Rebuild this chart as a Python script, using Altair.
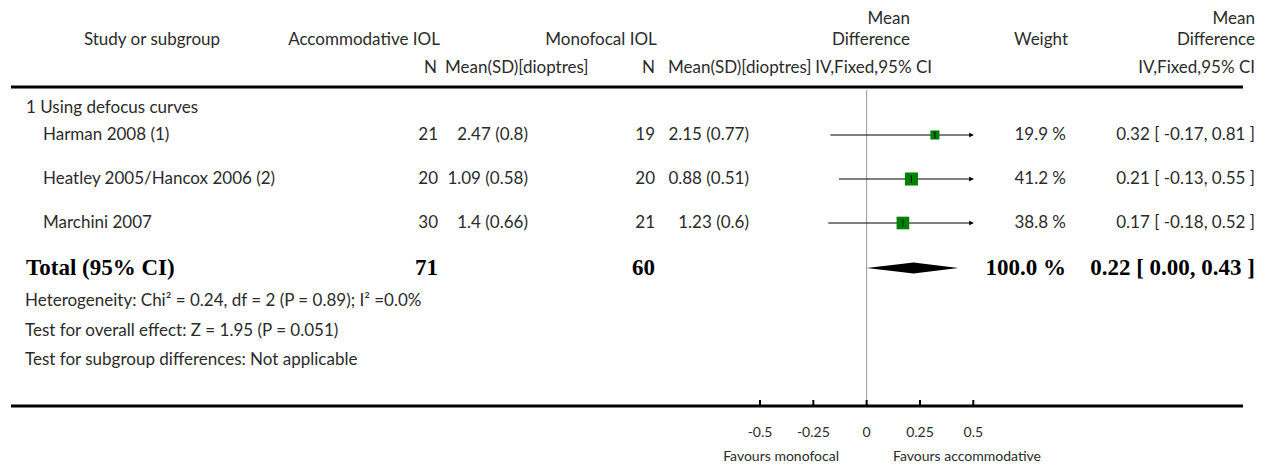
import altair as alt
import pandas as pd

# ---------------- data ----------------
studies = ["Harman 2008 (1)", "Heatley 2005/Hancox 2006 (2)", "Marchini 2007"]
acc_n = [21, 20, 30]
acc_mean = [2.47, 1.09, 1.4]
acc_sd = [0.8, 0.58, 0.66]
mono_n = [19, 20, 21]
mono_mean = [2.15, 0.88, 1.23]
mono_sd = [0.77, 0.51, 0.6]
weights = [19.9, 41.2, 38.8]
md = [0.32, 0.21, 0.17]
ci_lo = [-0.17, -0.13, -0.18]
ci_hi = [0.81, 0.55, 0.52]

total_acc_n = 71
total_mono_n = 60
total_weight = 100.0
total_md = 0.22
total_lo = 0.00
total_hi = 0.43

subgroup_title = "1 Using defocus curves"
footer_lines = [
    "Heterogeneity: Chi\u00b2 = 0.24, df = 2 (P = 0.89); I\u00b2 =0.0%",
    "Test for overall effect: Z = 1.95 (P = 0.051)",
    "Test for subgroup differences: Not applicable",
]
tick_values = [-0.5, -0.25, 0, 0.25, 0.5]
tick_labels = ["-0.5", "-0.25", "0", "0.25", "0.5"]
favours_left = "Favours monofocal"
favours_right = "Favours accommodative"

# ---------------- layout (page pixels) ----------------
M = 8  # page margin
W, H = 1267 - 2 * M, 472 - 2 * M
FONT = "Lato"
SERIF = "Liberation Serif"
FS = 17
COL = "#2b2b2b"

row_y = [135, 179, 223]
total_y = 268
footer_y = [301, 331, 360]


def P(v):
    return v - M


texts = []


def add(t, x, y, align, size=FS, base="middle"):
    texts.append({"t": t, "x": P(x), "y": P(y), "align": align, "size": size, "base": base})


# headers
add("Study or subgroup", 152, 40, "center")
add("Accommodative IOL", 364, 40, "center")
add("Monofocal IOL", 601, 40, "center")
add("Mean", 910, 19, "right")
add("Difference", 910, 40, "right")
add("Weight", 1041, 40, "center")
add("Mean", 1255, 19, "right")
add("Difference", 1255, 40, "right")
add("N", 437, 68, "right")
add("Mean(SD)[dioptres]", 445, 68, "left")
add("N", 655, 68, "right")
add("Mean(SD)[dioptres]", 668, 68, "left")
add("IV,Fixed,95% CI", 932, 68, "right")
add("IV,Fixed,95% CI", 1255, 68, "right")
add(subgroup_title, 26, 108, "left")

for i, s in enumerate(studies):
    y = row_y[i]
    add(s, 43, y, "left")
    add(str(acc_n[i]), 438, y, "right")
    add(f"{acc_mean[i]} ({acc_sd[i]})", 528, y, "right")
    add(str(mono_n[i]), 655, y, "right")
    add(f"{mono_mean[i]} ({mono_sd[i]})", 749, y, "right")
    add(f"{weights[i]} %", 1066, y, "right")
    add(f"{md[i]:.2f} [ {ci_lo[i]:.2f}, {ci_hi[i]:.2f} ]", 1255, y, "right")

for t, y in zip(footer_lines, footer_y):
    add(t, 25, y, "left")

add(favours_left, 839, 464, "right", size=14, base="bottom")
add(favours_right, 893, 464, "left", size=14, base="bottom")

tdf = pd.DataFrame(texts)

bold = pd.DataFrame([
    {"t": "Total (95% CI)", "x": P(26), "y": P(total_y), "align": "left"},
    {"t": str(total_acc_n), "x": P(438), "y": P(total_y), "align": "right"},
    {"t": str(total_mono_n), "x": P(655), "y": P(total_y), "align": "right"},
    {"t": f"{total_weight:.1f} %", "x": P(1066), "y": P(total_y), "align": "right"},
    {"t": f"{total_md:.2f} [ {total_lo:.2f}, {total_hi:.2f} ]", "x": P(1255), "y": P(total_y), "align": "right"},
])


def text_layer(df, align, font=FONT, size=FS, weight="normal", color=COL, base="middle"):
    return alt.Chart(df).mark_text(
        align=align, baseline=base, font=font, fontSize=size,
        fontWeight=weight, color=color,
    ).encode(
        x=alt.X("x:Q", scale=None),
        y=alt.Y("y:Q", scale=None),
        text="t:N",
    )


def text_layers(df):
    out = []
    for (a, s, b), g in df.groupby(["align", "size", "base"]):
        out.append(text_layer(g, a, size=int(s), base=b))
    return out


# forest scale: -0.5 at page x 760, 0.5 at page x 973.3
fx = alt.Scale(domain=[-0.5, 0.5], range=[P(760), P(973.3)], clamp=True)

fdf = pd.DataFrame({
    "md": md, "lo": ci_lo, "hi": ci_hi, "w": weights,
    "y": [P(v) for v in row_y],
})

ci_lines = alt.Chart(fdf).mark_rule(color="black", strokeWidth=1).encode(
    x=alt.X("lo:Q", scale=fx, axis=None),
    x2="hi:Q",
    y=alt.Y("y:Q", scale=None),
)
arrows = alt.Chart(fdf).transform_filter("datum.hi > 0.5").mark_point(
    shape="triangle-right", filled=True, color="black", size=24, opacity=1, xOffset=-2
).encode(
    x=alt.X("hi:Q", scale=fx, axis=None),
    y=alt.Y("y:Q", scale=None),
)
boxes = alt.Chart(fdf).mark_square(color="#008000", opacity=1).encode(
    x=alt.X("md:Q", scale=fx, axis=None),
    y=alt.Y("y:Q", scale=None),
    size=alt.Size("w:Q", scale=alt.Scale(domain=[0, 41.2], range=[0, 170]), legend=None),
)
est_ticks = alt.Chart(fdf).transform_calculate(
    y1="datum.y - 3.5", y2="datum.y + 3.5"
).mark_rule(color="black", strokeWidth=1).encode(
    x=alt.X("md:Q", scale=fx, axis=None),
    y=alt.Y("y1:Q", scale=None),
    y2="y2:Q",
)

half = 5.5
ddf = pd.DataFrame({
    "x": [total_lo, total_md, total_hi],
    "ya": [P(total_y), P(total_y) - half, P(total_y)],
    "yb": [P(total_y), P(total_y) + half, P(total_y)],
})
diamond = alt.Chart(ddf).mark_area(color="black", opacity=1).encode(
    x=alt.X("x:Q", scale=fx, axis=None),
    y=alt.Y("ya:Q", scale=None),
    y2="yb:Q",
)

zero_line = alt.Chart(pd.DataFrame({"v": [0.0]})).mark_rule(color="#999999", strokeWidth=1).encode(
    x=alt.X("v:Q", scale=fx, axis=None),
    y=alt.value(P(90)),
    y2=alt.value(P(406)),
)

hlines = alt.Chart(pd.DataFrame({"yy": [P(87), P(406)]})).mark_rule(color="black", strokeWidth=3).encode(
    x=alt.value(P(11)),
    x2=alt.value(P(1243)),
    y=alt.Y("yy:Q", scale=None),
)

tdf_ticks = pd.DataFrame({"v": tick_values, "lab": tick_labels})
axis_ticks = alt.Chart(tdf_ticks).mark_rule(color="black", strokeWidth=2).encode(
    x=alt.X("v:Q", scale=fx, axis=None),
    y=alt.value(P(400)),
    y2=alt.value(P(406)),
)
axis_labels = alt.Chart(tdf_ticks).mark_text(
    font=FONT, fontSize=14, color=COL, baseline="middle", align="center"
).encode(
    x=alt.X("v:Q", scale=fx, axis=None),
    y=alt.value(P(433)),
    text="lab:N",
)

chart = alt.layer(
    zero_line, hlines, ci_lines, arrows, boxes, est_ticks, diamond,
    axis_ticks, axis_labels,
    *text_layers(tdf),
    text_layer(bold[bold["align"] == "left"], "left", font=SERIF, size=23, weight="bold", color="black"),
    text_layer(bold[bold["align"] == "right"], "right", font=SERIF, size=23, weight="bold", color="black"),
).properties(
    width=W, height=H, autosize=alt.AutoSizeParams(type="none"), padding=0,
).configure_view(stroke=None)

chart.save("out.html", embed_options={"renderer": "svg", "actions": False})
